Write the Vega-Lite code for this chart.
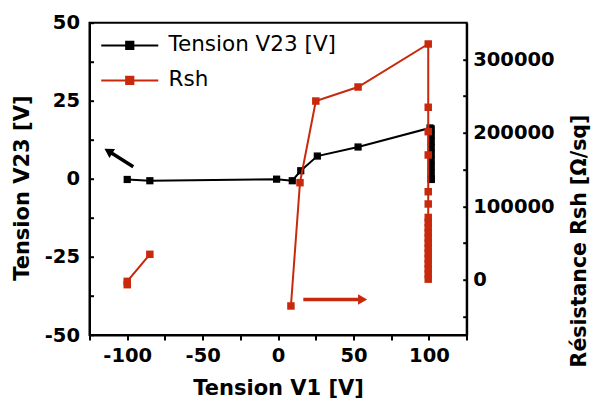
{
  "$schema": "https://vega.github.io/schema/vega-lite/v6.json",
  "width": 377.2,
  "height": 312.3,
  "autosize": {"type": "none"},
  "padding": {"left": 89.5, "top": 22.7, "right": 124.3, "bottom": 66},
  "background": "white",
  "datasets": {
    "v23": [
      {"i": 1, "v1": -100, "v23": -0.2, "series": "Tension V23 [V]"},
      {"i": 2, "v1": -85, "v23": -0.6, "series": "Tension V23 [V]"},
      {"i": 3, "v1": -1, "v23": -0.1, "series": "Tension V23 [V]"},
      {"i": 4, "v1": 9.4, "v23": -0.6, "series": "Tension V23 [V]"},
      {"i": 5, "v1": 15, "v23": 2.6, "series": "Tension V23 [V]"},
      {"i": 6, "v1": 26, "v23": 7.3, "series": "Tension V23 [V]"},
      {"i": 7, "v1": 53, "v23": 10.2, "series": "Tension V23 [V]"},
      {"i": 8, "v1": 100.7, "v23": 16.3, "series": "Tension V23 [V]"},
      {"i": 9, "v1": 101.5, "v23": 16, "series": "Tension V23 [V]"},
      {"i": 10, "v1": 101.5, "v23": 14, "series": "Tension V23 [V]"},
      {"i": 11, "v1": 101.5, "v23": 12, "series": "Tension V23 [V]"},
      {"i": 12, "v1": 101.5, "v23": 10, "series": "Tension V23 [V]"},
      {"i": 13, "v1": 101.5, "v23": 8, "series": "Tension V23 [V]"},
      {"i": 14, "v1": 101.5, "v23": 6, "series": "Tension V23 [V]"},
      {"i": 15, "v1": 101.5, "v23": 4, "series": "Tension V23 [V]"},
      {"i": 16, "v1": 101.5, "v23": 2, "series": "Tension V23 [V]"},
      {"i": 17, "v1": 101.5, "v23": 0, "series": "Tension V23 [V]"},
      {"i": 18, "v1": 101.5, "v23": -0.2, "series": "Tension V23 [V]"}
    ],
    "rsh": [
      {"i": 1, "seg": "a", "v1": -100, "rsh": -6500, "series": "Rsh"},
      {"i": 2, "seg": "a", "v1": -100, "rsh": -2000, "series": "Rsh"},
      {"i": 3, "seg": "a", "v1": -85, "rsh": 34800, "series": "Rsh"},
      {"i": 4, "seg": "b", "v1": 8.5, "rsh": -35500, "series": "Rsh"},
      {"i": 5, "seg": "b", "v1": 14.5, "rsh": 132300, "series": "Rsh"},
      {"i": 6, "seg": "b", "v1": 25, "rsh": 243400, "series": "Rsh"},
      {"i": 7, "seg": "b", "v1": 53, "rsh": 262500, "series": "Rsh"},
      {"i": 8, "seg": "b", "v1": 99.5, "rsh": 321000, "series": "Rsh"},
      {"i": 9, "seg": "b", "v1": 99.5, "rsh": 234900, "series": "Rsh"},
      {"i": 10, "seg": "b", "v1": 99.5, "rsh": 201700, "series": "Rsh"},
      {"i": 11, "seg": "b", "v1": 99.5, "rsh": 170000, "series": "Rsh"},
      {"i": 12, "seg": "b", "v1": 99.5, "rsh": 120000, "series": "Rsh"},
      {"i": 13, "seg": "b", "v1": 99.5, "rsh": 103300, "series": "Rsh"},
      {"i": 14, "seg": "b", "v1": 99.5, "rsh": 85000, "series": "Rsh"},
      {"i": 15, "seg": "b", "v1": 99.5, "rsh": 78000, "series": "Rsh"},
      {"i": 16, "seg": "b", "v1": 99.5, "rsh": 71000, "series": "Rsh"},
      {"i": 17, "seg": "b", "v1": 99.5, "rsh": 64000, "series": "Rsh"},
      {"i": 18, "seg": "b", "v1": 99.5, "rsh": 57000, "series": "Rsh"},
      {"i": 19, "seg": "b", "v1": 99.5, "rsh": 50000, "series": "Rsh"},
      {"i": 20, "seg": "b", "v1": 99.5, "rsh": 43000, "series": "Rsh"},
      {"i": 21, "seg": "b", "v1": 99.5, "rsh": 36000, "series": "Rsh"},
      {"i": 22, "seg": "b", "v1": 99.5, "rsh": 29000, "series": "Rsh"},
      {"i": 23, "seg": "b", "v1": 99.5, "rsh": 22000, "series": "Rsh"},
      {"i": 24, "seg": "b", "v1": 99.5, "rsh": 15000, "series": "Rsh"},
      {"i": 25, "seg": "b", "v1": 99.5, "rsh": 8000, "series": "Rsh"},
      {"i": 26, "seg": "b", "v1": 99.5, "rsh": 1000, "series": "Rsh"}
    ],
    "arrows": [
      {"arrow": "black", "v1": -96, "v23": 3.9, "v1_end": -112.5, "v23_end": 8.9},
      {"arrow": "red", "v1": 16.7, "v23": -38.6, "v1_end": 56, "v23_end": -38.6}
    ]
  },
  "config": {
    "view": {"stroke": "black", "strokeWidth": 2},
    "axis": {
      "grid": false,
      "domainColor": "black",
      "domainWidth": 2,
      "tickColor": "black",
      "tickWidth": 2,
      "labelColor": "black",
      "titleColor": "black",
      "labelFont": "DejaVu Sans",
      "labelFontWeight": "bold",
      "labelFontSize": 19.5,
      "titleFont": "DejaVu Sans",
      "titleFontWeight": "bold",
      "titleFontSize": 21,
      "labelFlush": false,
      "labelOverlap": false
    },
    "legend": {
      "orient": "none",
      "legendX": 29.5,
      "legendY": 12,
      "padding": 0,
      "title": null,
      "symbolType": "M-3,0H3M-0.38,-0.38H0.38V0.38H-0.38Z",
      "symbolSize": 361,
      "symbolStrokeWidth": 2,
      "labelFont": "DejaVu Sans",
      "labelFontSize": 21.5,
      "labelColor": "black",
      "labelOffset": 28,
      "labelLimit": 400,
      "rowPadding": 12
    }
  },
  "encoding": {
    "x": {
      "field": "v1",
      "type": "quantitative",
      "scale": {"domain": [-125, 125], "nice": false, "zero": false},
      "axis": {
        "title": "Tension V1 [V]",
        "values": [-125, -100, -75, -50, -25, 0, 25, 50, 75, 100, 125],
        "labelExpr": "datum.value % 50 === 0 ? toString(datum.value) : ''",
        "tickSize": 5,
        "labelPadding": 6,
        "titleBaseline": "middle",
        "titleY": 53
      }
    }
  },
  "layer": [
    {
      "encoding": {
        "y": {
          "field": "v23",
          "type": "quantitative",
          "scale": {"domain": [-50, 50], "nice": false, "zero": false},
          "axis": {
            "title": "Tension V23 [V]",
            "orient": "left",
            "values": [-50, -37.5, -25, -12.5, 0, 12.5, 25, 37.5, 50],
            "labelExpr": "datum.value % 25 === 0 ? toString(datum.value) : ''",
            "tickSize": -4,
            "labelPadding": 14,
            "titleAngle": 270,
            "titleAlign": "center",
            "titleBaseline": "middle",
            "titleX": -67,
            "titleY": 165
          }
        }
      },
      "layer": [
        {
          "data": {"name": "v23"},
          "mark": {"type": "line", "strokeWidth": 2},
          "encoding": {
            "order": {"field": "i", "type": "quantitative"},
            "color": {
              "field": "series",
              "type": "nominal",
              "scale": {"domain": ["Tension V23 [V]", "Rsh"], "range": ["#000000", "#c8290c"]}
            }
          }
        },
        {
          "data": {"name": "v23"},
          "mark": {"type": "point", "shape": "square", "filled": true, "size": 52, "opacity": 1},
          "encoding": {
            "color": {"field": "series", "type": "nominal"}
          }
        },
        {
          "data": {"name": "arrows"},
          "transform": [{"filter": "datum.arrow === 'black'"}],
          "mark": {"type": "rule", "color": "black", "strokeWidth": 3.5},
          "encoding": {
            "x2": {"field": "v1_end"},
            "y2": {"field": "v23_end"}
          }
        },
        {
          "data": {"name": "arrows"},
          "transform": [{"filter": "datum.arrow === 'black'"}],
          "mark": {"type": "point", "shape": "triangle-up", "filled": true, "color": "black", "size": 110, "angle": 301.5, "opacity": 1},
          "encoding": {
            "x": {"field": "v1_end", "type": "quantitative"},
            "y": {"field": "v23_end", "type": "quantitative"}
          }
        },
        {
          "data": {"name": "arrows"},
          "transform": [{"filter": "datum.arrow === 'red'"}],
          "mark": {"type": "rule", "color": "#c8290c", "strokeWidth": 3.5},
          "encoding": {
            "x2": {"field": "v1_end"},
            "y2": {"field": "v23_end"}
          }
        },
        {
          "data": {"name": "arrows"},
          "transform": [{"filter": "datum.arrow === 'red'"}],
          "mark": {"type": "point", "shape": "triangle-right", "filled": true, "color": "#c8290c", "size": 110, "opacity": 1},
          "encoding": {
            "x": {"field": "v1_end", "type": "quantitative"},
            "y": {"field": "v23_end", "type": "quantitative"}
          }
        }
      ]
    },
    {
      "data": {"name": "rsh"},
      "encoding": {
        "y": {
          "field": "rsh",
          "type": "quantitative",
          "scale": {"domain": [-75000, 350000], "nice": false, "zero": false},
          "axis": {
            "title": "Résistance Rsh [Ω/sq]",
            "orient": "right",
            "values": [-50000, 0, 50000, 100000, 150000, 200000, 250000, 300000],
            "labelExpr": "datum.value % 100000 === 0 ? toString(datum.value) : ''",
            "tickSize": -4,
            "labelPadding": 10,
            "titleAngle": 270,
            "titleAlign": "center",
            "titleBaseline": "middle",
            "titleFontSize": 20.5,
            "titleX": 112.5,
            "titleY": 217.8
          }
        }
      },
      "layer": [
        {
          "mark": {"type": "line", "strokeWidth": 2},
          "encoding": {
            "detail": {"field": "seg", "type": "nominal"},
            "order": {"field": "i", "type": "quantitative"},
            "color": {"field": "series", "type": "nominal"}
          }
        },
        {
          "mark": {"type": "point", "shape": "square", "filled": true, "size": 56, "opacity": 1},
          "encoding": {
            "color": {"field": "series", "type": "nominal"}
          }
        }
      ]
    }
  ],
  "resolve": {"scale": {"y": "independent"}}
}
